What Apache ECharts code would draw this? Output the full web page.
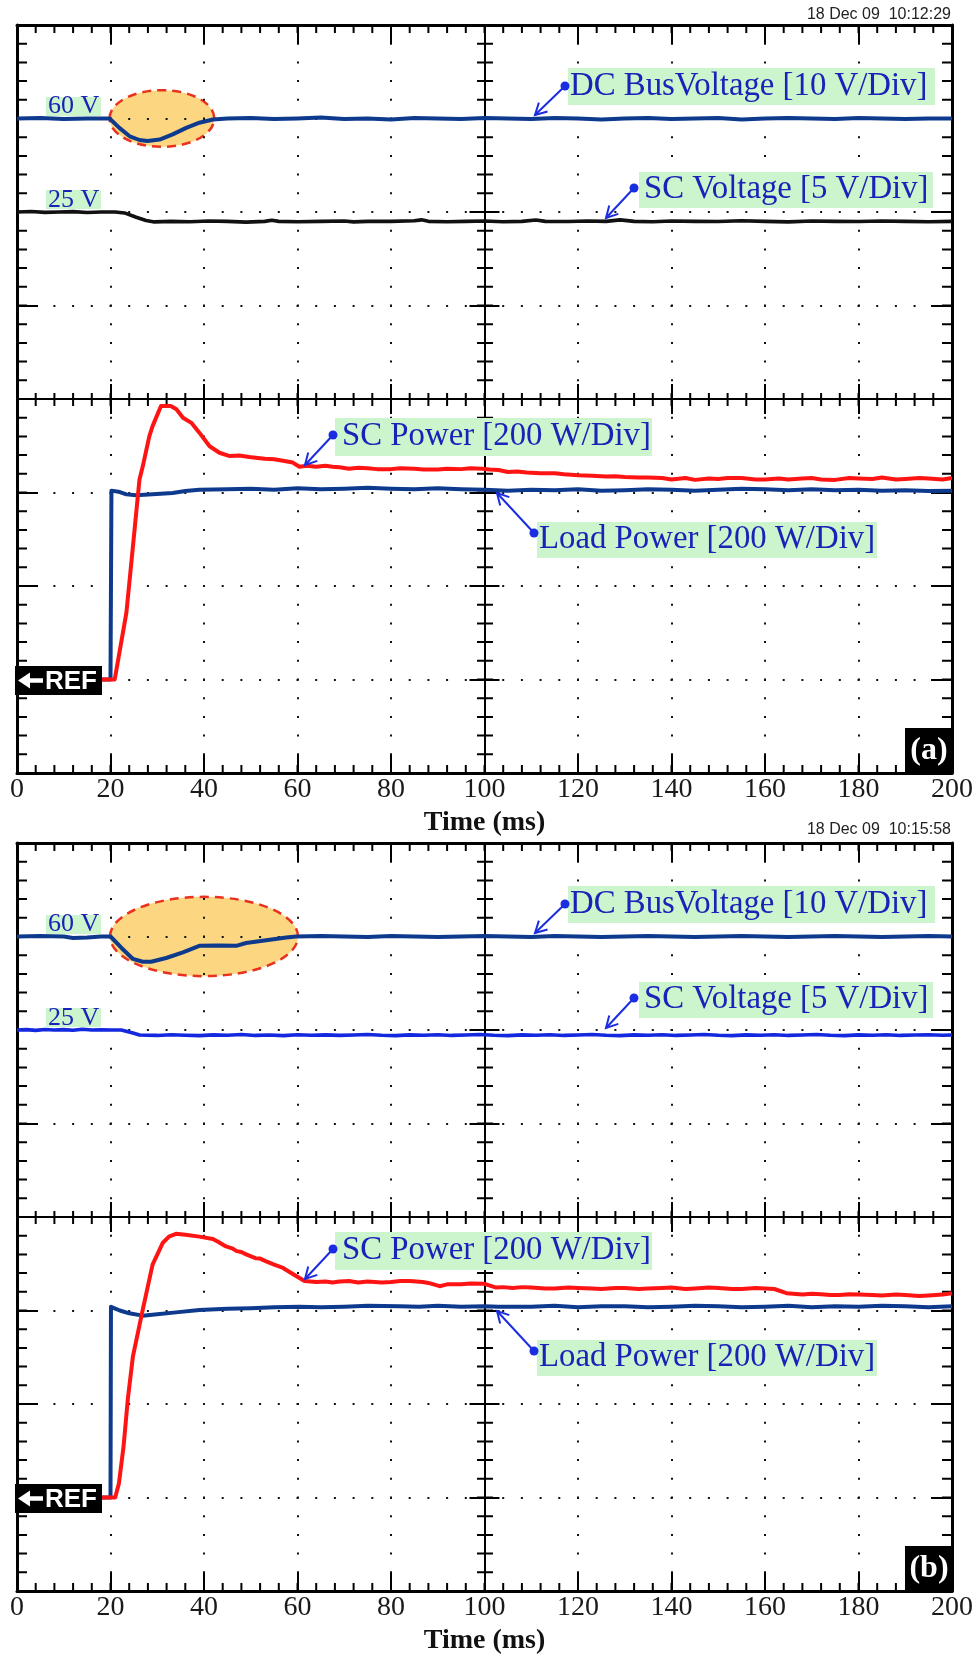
<!DOCTYPE html>
<html>
<head>
<meta charset="utf-8">
<script src="https://cdn.jsdelivr.net/npm/echarts@6/dist/echarts.min.js"></script>
<style>
  html, body { margin: 0; padding: 0; background: #ffffff; }
  #chart { width: 976px; height: 1657px; }
</style>
</head>
<body>
<div id="chart"></div>
<script>
// ---------- Measured traces: [time (ms), value] ----------

// Test (a)
const dcBusA = [[0,60],[5,60.05],[10,59.95],[15,60],[19.8,60],[21.9,59.0],[24.1,58.1],[26.2,57.7],[27.9,57.6],[30.5,57.75],
  [33.3,58.3],[36.2,59.0],[39,59.55],[41.9,59.9],[45,60],[50,60.05],[55,59.95],[60,60],[65,60.1],[70,59.95],[75,60],
  [80,59.9],[85,60.05],[90,60],[95,59.95],[100,60.05],[105,60],[110,59.95],[115,60.05],[120,60],[125,59.9],[130,60],
  [135,60.05],[140,59.95],[145,60],[150,60.05],[155,59.9],[160,60],[165,60.05],[170,60],[175,59.95],[180,60.05],
  [185,60],[190,59.95],[195,60],[200,60]];

const scVoltA = [[0,25.0],[3,25.03],[6,24.98],[9,25.0],[12,25.02],[15,24.97],[18,25.0],[21,25.0],[23,24.95],[25.5,24.72],
  [27.6,24.55],[29.4,24.47],[33,24.5],[37,24.48],[41,24.52],[45,24.5],[49,24.46],[53,24.5],[54.5,24.56],[56,24.5],
  [60,24.48],[65,24.5],[70,24.52],[72,24.47],[75,24.5],[80,24.5],[85,24.53],[86.5,24.58],[88,24.5],[92,24.48],
  [96,24.5],[100,24.52],[104,24.48],[108,24.5],[111,24.57],[113,24.5],[118,24.49],[122,24.52],[126,24.5],[129,24.58],
  [132,24.5],[136,24.48],[140,24.52],[145,24.5],[150,24.49],[155,24.53],[160,24.5],[165,24.47],[170,24.52],[175,24.5],
  [180,24.49],[185,24.52],[190,24.5],[195,24.48],[200,24.5]];

const loadPowA = [[0,0],[20,0],[20.2,404],[22,401],[23.4,396],[25.5,394],[29,396],[33.3,399],[36,403],[39,406],[45,407],
  [50,408],[55,406],[60,409],[65,407],[70,408],[75,410],[80,408],[85,407],[90,409],[95,407],[100,406],[105,404],[110,406],
  [115,405],[120,407],[125,404],[130,405],[135,407],[140,406],[145,404],[150,406],[155,408],[160,407],[165,405],[170,407],
  [175,405],[180,406],[185,404],[190,405],[195,403],[200,404]];

const scPowA = [[0,0],[20,0],[20.9,0],[21.9,57],[23.4,143],[24.8,285],[26.2,428],[26.9,456],[28.3,520],[29,542],[30.8,585],
  [32.9,585],[34.1,578],[35.5,560],[37.3,549],[39,528],[41.2,499],[43.3,485],[45.5,478],[47.5,479],[49.7,476],[51.5,474],
  [53,472],[55,471],[56.9,468],[59,464],[60.4,455],[62,457],[64,455],[66,457],[67.5,455],[69,454],[71,451],[73,453],
  [75,452],[77,450],[80,450],[82,452],[85,451],[87,449],[90,449],[92,451],[95,450],[97,452],[99.6,451],[101,449],[103,448],
  [105,444],[107,445],[109,443],[112,441],[115,441],[117,439],[120,437],[123,436],[126,434],[128,435],[130,433],
  [133,432],[135,432],[138,431],[140,428],[143,431],[145,427],[148,430],[150,429],[152,431],[155,431],[158,428],
  [160,428],[163,430],[165,428],[168,430],[170,431],[172,428],[175,427],[178,431],[180,430],[183,429],[185,432],
  [188,428],[190,429],[193,431],[195,430],[198,428],[200,431]];

// Test (b)
const dcBusB = [[0,60],[5,60.05],[10,60],[12,59.85],[15,59.9],[18,60],[20,60],[22.3,58.8],[24.8,57.6],[26.9,57.3],[28.7,57.3],
  [31.9,57.7],[35.5,58.3],[39,59.0],[43,59.05],[46.9,59.0],[49,59.3],[53.3,59.6],[57.6,59.9],[59.7,60],[65,60.05],[70,60],
  [75,59.95],[80,60.05],[85,60],[90,59.95],[95,60],[100,60.05],[105,60],[110,59.95],[115,60.05],[120,60],[125,59.95],
  [130,60],[135,60.05],[140,60],[145,59.95],[150,60],[155,60.05],[160,60],[165,59.95],[170,60],[175,60.05],[180,60],
  [185,59.95],[190,60],[195,60.05],[200,60]];

const scVoltB = [[0,25.0],[2,25.02],[4,24.98],[6,25.03],[8,25.0],[10,25.02],[12,24.99],[14,25.04],[16,25.0],[18,25.01],
  [20,25.0],[22.3,25.0],[24.8,24.84],[26.2,24.73],[30,24.71],[33,24.75],[36,24.72],[39,24.7],[42,24.74],[45,24.72],
  [48,24.76],[51,24.71],[54,24.73],[57,24.7],[60,24.75],[63,24.72],[66,24.74],[69,24.71],[72,24.73],[75,24.76],
  [78,24.72],[81,24.7],[84,24.74],[87,24.72],[90,24.75],[93,24.71],[96,24.73],[99,24.76],[102,24.72],[105,24.7],
  [108,24.74],[111,24.72],[114,24.75],[117,24.71],[120,24.73],[123,24.76],[126,24.72],[129,24.7],[132,24.74],[135,24.72],
  [138,24.75],[141,24.71],[144,24.73],[147,24.76],[150,24.72],[153,24.7],[156,24.74],[159,24.72],[162,24.75],[165,24.71],
  [168,24.73],[171,24.76],[174,24.72],[177,24.7],[180,24.74],[183,24.72],[186,24.75],[189,24.71],[192,24.73],[195,24.75],
  [198,24.72],[200,24.73]];

const loadPowB = [[0,0],[20,0],[20.1,408],[21,404],[22,400],[24,394],[26.9,389],[30,392],[34,396],[39,401],[45,404],[50,405],
  [55,407],[60.4,408],[65,407],[70,408],[75,410],[81.8,409],[86,408],[90,410],[95,408],[100,409],[103,408],[110,408],
  [115,410],[120,407],[125,409],[130,409],[135,407],[140,408],[145,410],[150,409],[155,407],[160,408],[165,410],[170,407],
  [175,409],[180,408],[185,410],[190,409],[195,407],[200,409]];

const scPowB = [[0,0],[20,0],[21,0],[21.8,30],[22.8,110],[23.7,210],[24.8,302],[26.9,402],[29,498],[31.2,545],[32.5,558],
  [34,564],[36,562],[39,558],[41.9,553],[43,547],[44.7,537],[46,533],[47,527],[48,525],[49,520],[51,512],[52,511],
  [53.3,505],[55,498],[56.9,491],[59,478],[61.5,463],[64,461],[66,462],[67.5,460],[69,462],[71,463],[73,460],[75,462],
  [78,460],[80,461],[82,463],[84,463],[86.8,461],[88,459],[90.4,452],[92,456],[95,456],[97,458],[100,457],[102.5,449],
  [104,450],[106,448],[108,450],[110,449],[113,447],[115,447],[118,449],[120,448],[123,447],[125,446],[128,448],
  [130,448],[133,446],[135,447],[138,448],[140,449],[143,446],[145,447],[148,449],[150,448],[153,446],[155,446],
  [158,448],[160,447],[162,446],[164.6,437],[166,436],[168,434],[170,436],[172,435],[174,433],[176,433],[178,435],
  [180,434],[183,433],[185,432],[188,434],[190,433],[193,431],[195,432],[198,434],[200,437]];

// ---------- Styling ----------
const SERIF = '"Liberation Serif", "Times New Roman", serif';
const SANS = '"Liberation Sans", Arial, sans-serif';
const NAVY = '#0e3a8e';
const RED = '#ff1414';
const LABEL_TEXT = '#1a22b8';
const LABEL_BG = '#cdf5cd';
const POINTER = '#1b2de0';

const GRID_LEFT = 17, GRID_W = 935, GRID_H = 748;
const MINOR_STEP = 18.7; // one fifth of a division, in pixels

const PANELS = [
  { top: 25, tag: '(a)', stamp: '18 Dec 09  10:12:29', stampDy: -10,
    dc: dcBusA, scv: scVoltA, scvColor: '#111111', load: loadPowA, scp: scPowA,
    ellipse: { t: 31, v: 60, dt: 11.2, dv: 3.03 }, scvShift: 0, scpShift: 0 },
  { top: 843, tag: '(b)', stamp: '18 Dec 09  10:15:58', stampDy: -13,
    dc: dcBusB, scv: scVoltB, scvColor: '#1428e0', load: loadPowB, scp: scPowB,
    ellipse: { t: 40, v: 60, dt: 20.1, dv: 4.24 }, scvShift: -8, scpShift: -4 }
];

const X_PER_PANEL = 8, Y_PER_PANEL = 10;
const tickLine = () => ({ color: '#000', width: 2 });
const dotted = () => ({ color: '#111', width: 2, type: [2, MINOR_STEP - 2], dashOffset: 1 });

// A comb of minor ticks: a wide axis line broken into short dashes, one per fifth of a division.
function combAxis(base, extra, len) {
  return Object.assign({}, base, {
    axisTick: { show: false }, splitLine: { show: false }, axisLabel: { show: false },
    axisLine: { show: true, onZero: false,
                lineStyle: { color: '#000', width: len, type: [2, MINOR_STEP - 2], dashOffset: 1, cap: 'butt' } }
  }, extra);
}

const grids = [], xAxes = [], yAxes = [], series = [];

PANELS.forEach((P, p) => {
  const bx = p * X_PER_PANEL, by = p * Y_PER_PANEL;
  grids.push({ left: GRID_LEFT, top: P.top, width: GRID_W, height: GRID_H, show: false });

  const tMajor = { gridIndex: p, type: 'value', min: 0, max: 200, interval: 20 };
  xAxes.push(
    // 0: bottom frame, time labels and dotted verticals
    Object.assign({}, tMajor, {
      position: 'bottom',
      axisLine: { onZero: false, lineStyle: { color: '#000', width: 3 } },
      axisTick: { inside: true, length: 18, lineStyle: tickLine() },
      splitLine: { show: true, lineStyle: dotted() },
      axisLabel: { margin: 3, color: '#1a1a1a', fontFamily: SERIF, fontSize: 28, showMinLabel: true, showMaxLabel: true },
      name: 'Time (ms)', nameLocation: 'middle', nameGap: 36,
      nameTextStyle: { fontFamily: SERIF, fontSize: 28, fontWeight: 'bold', color: '#111' }
    }),
    // 1: top frame
    Object.assign({}, tMajor, {
      position: 'top',
      axisLine: { onZero: false, lineStyle: { color: '#000', width: 3 } },
      axisTick: { inside: true, length: 19, lineStyle: tickLine() },
      splitLine: { show: false }, axisLabel: { show: false }
    }),
    // 2: horizontal centre line, ticks upward
    Object.assign({}, tMajor, {
      position: 'bottom',
      axisLine: { onZero: true, onZeroAxisIndex: by, lineStyle: { color: '#000', width: 2 } },
      axisTick: { inside: true, length: 15, lineStyle: tickLine() },
      splitLine: { show: false }, axisLabel: { show: false }
    }),
    // 3: horizontal centre line, ticks downward
    Object.assign({}, tMajor, {
      position: 'bottom',
      axisLine: { show: false, onZero: true, onZeroAxisIndex: by },
      axisTick: { inside: false, length: 15, lineStyle: tickLine() },
      splitLine: { show: false }, axisLabel: { show: false }
    }),
    // 4: symmetric helper scale locating the vertical centre line
    { gridIndex: p, type: 'value', min: -100, max: 100, show: false },
    // 5-7: minor-tick combs: bottom frame, top frame, horizontal centre line
    combAxis(tMajor, { position: 'bottom', offset: -4 }, 8),
    combAxis(tMajor, { position: 'top', offset: -4 }, 8),
    (function () {
      const a = combAxis(tMajor, { position: 'bottom' }, 13);
      a.axisLine.onZero = true; a.axisLine.onZeroAxisIndex = by;
      return a;
    })()
  );

  const dMajor = { gridIndex: p, type: 'value', min: -4, max: 4, interval: 1 };
  yAxes.push(
    // 0: left frame, dotted horizontals
    Object.assign({}, dMajor, {
      position: 'left',
      axisLine: { onZero: false, lineStyle: { color: '#000', width: 3 } },
      axisTick: { inside: true, length: 21, lineStyle: tickLine() },
      splitLine: { show: true, lineStyle: dotted() }, axisLabel: { show: false }
    }),
    // 1: right frame
    Object.assign({}, dMajor, {
      position: 'right',
      axisLine: { onZero: false, lineStyle: { color: '#000', width: 3 } },
      axisTick: { inside: true, length: 21, lineStyle: tickLine() },
      splitLine: { show: false }, axisLabel: { show: false }
    }),
    // 2: vertical centre line, ticks to the right
    Object.assign({}, dMajor, {
      position: 'left',
      axisLine: { onZero: true, onZeroAxisIndex: bx + 4, lineStyle: { color: '#000', width: 2 } },
      axisTick: { inside: true, length: 15, lineStyle: tickLine() },
      splitLine: { show: false }, axisLabel: { show: false }
    }),
    // 3: vertical centre line, ticks to the left
    Object.assign({}, dMajor, {
      position: 'left',
      axisLine: { show: false, onZero: true, onZeroAxisIndex: bx + 4 },
      axisTick: { inside: false, length: 15, lineStyle: tickLine() },
      splitLine: { show: false }, axisLabel: { show: false }
    }),
    // 4-6: channel scales: 10 V/div, 5 V/div, 200 W/div
    { gridIndex: p, type: 'value', min: -10, max: 70, show: false },
    { gridIndex: p, type: 'value', min: -5, max: 35, show: false },
    { gridIndex: p, type: 'value', min: -200, max: 1400, show: false },
    // 7-9: minor-tick combs: left frame, right frame, vertical centre line
    combAxis(dMajor, { position: 'left', offset: -5 }, 10),
    combAxis(dMajor, { position: 'right', offset: -5 }, 10),
    (function () {
      const a = combAxis(dMajor, { position: 'left' }, 16);
      a.axisLine.onZero = true; a.axisLine.onZeroAxisIndex = bx + 4;
      return a;
    })()
  );

  const trace = (data, yIdx, color, width) => ({
    type: 'line', xAxisIndex: bx, yAxisIndex: yIdx, data: data,
    showSymbol: false, symbol: 'none', silent: true, animation: false,
    lineStyle: { color: color, width: width, join: 'round' }, z: 3
  });
  series.push(
    trace(P.dc, by + 4, NAVY, 4),
    trace(P.scv, by + 5, P.scvColor, 3.6),
    trace(P.load, by + 6, NAVY, 4),
    trace(P.scp, by + 6, RED, 4)
  );
});

const chart = echarts.init(document.getElementById('chart'), null, { renderer: 'canvas', width: 976, height: 1657 });
chart.setOption({
  animation: false,
  backgroundColor: '#ffffff',
  grid: grids, xAxis: xAxes, yAxis: yAxes, series: series
});

// ---------- Annotations ----------
function labelBox(x, y, w, h, text, textX, textY, size) {
  return [
    { type: 'rect', z: 10, shape: { x: x, y: y, width: w, height: h }, style: { fill: LABEL_BG } },
    { type: 'text', z: 11, x: textX, y: textY,
      style: { text: text, font: size + 'px ' + SERIF, fill: LABEL_TEXT,
               align: 'left', verticalAlign: 'middle', textAlign: 'left', textVerticalAlign: 'middle' } }
  ];
}

function pointer(x1, y1, x2, y2) {
  const ang = Math.atan2(y1 - y2, x1 - x2);
  const len = 13, spread = 0.5;
  const a = [x2 + len * Math.cos(ang + spread), y2 + len * Math.sin(ang + spread)];
  const b = [x2 + len * Math.cos(ang - spread), y2 + len * Math.sin(ang - spread)];
  return [
    { type: 'line', z: 11, shape: { x1: x1, y1: y1, x2: x2, y2: y2 }, style: { stroke: POINTER, lineWidth: 2 } },
    { type: 'polyline', z: 11, shape: { points: [a, [x2, y2], b] }, style: { stroke: POINTER, lineWidth: 2, fill: null } },
    { type: 'circle', z: 11, shape: { cx: x1, cy: y1, r: 4.5 }, style: { fill: POINTER } }
  ];
}

const graphics = [];
PANELS.forEach((P, p) => {
  const T = P.top, bx = p * X_PER_PANEL, by = p * Y_PER_PANEL;

  // highlighted region around the bus voltage transient
  const E = P.ellipse;
  const c = chart.convertToPixel({ xAxisIndex: bx, yAxisIndex: by + 4 }, [E.t, E.v]);
  const e = chart.convertToPixel({ xAxisIndex: bx, yAxisIndex: by + 4 }, [E.t + E.dt, E.v - E.dv]);
  graphics.push({ type: 'ellipse', z: -1,
    shape: { cx: c[0], cy: c[1], rx: Math.abs(e[0] - c[0]), ry: Math.abs(e[1] - c[1]) },
    style: { fill: '#fcd680', stroke: '#e8321e', lineWidth: 2.5, lineDash: [9, 6] } });

  graphics.push(...labelBox(46, T + 72, 55, 19, '60 V', 48, T + 81, 26));
  graphics.push(...labelBox(46, T + 165, 55, 19, '25 V', 48, T + 175, 26));

  graphics.push(...labelBox(568, T + 43, 367, 37, 'DC BusVoltage [10 V/Div]', 570, T + 61, 32.8));
  graphics.push(...pointer(565, T + 61, 535, T + 90));

  const s1 = P.scvShift;
  graphics.push(...labelBox(639, T + 147 + s1, 294, 36, 'SC Voltage [5 V/Div]', 644, T + 164 + s1, 32.8));
  graphics.push(...pointer(634, T + 163 + s1, 606, T + 193 + s1));

  const s2 = P.scpShift;
  graphics.push(...labelBox(335, T + 393 + s2, 317, 38, 'SC Power [200 W/Div]', 342, T + 411 + s2, 32.8));
  graphics.push(...pointer(333, T + 410 + s2, 305, T + 440 + s2));

  graphics.push(...labelBox(537, T + 497, 340, 36, 'Load Power [200 W/Div]', 539, T + 514, 32.8));
  graphics.push(...pointer(534, T + 508, 497, T + 468));

  // ground reference marker
  const ry = T + 655.5;
  graphics.push({ type: 'rect', z: 12, shape: { x: 15, y: T + 641, width: 87, height: 29 }, style: { fill: '#000' } });
  graphics.push({ type: 'polygon', z: 13,
    shape: { points: [[18, ry], [30, ry - 8], [30, ry - 2.2], [43, ry - 2.2], [43, ry + 2.2], [30, ry + 2.2], [30, ry + 8]] },
    style: { fill: '#fff' } });
  graphics.push({ type: 'text', z: 13, x: 45, y: ry + 1,
    style: { text: 'REF', font: 'bold 26px ' + SANS, fill: '#fff',
             align: 'left', verticalAlign: 'middle', textAlign: 'left', textVerticalAlign: 'middle' } });

  // panel tag
  graphics.push({ type: 'rect', z: 12, shape: { x: 905, y: T + 703, width: 48, height: 45 }, style: { fill: '#000' } });
  graphics.push({ type: 'text', z: 13, x: 929, y: T + 726,
    style: { text: P.tag, font: 'bold 32px ' + SERIF, fill: '#fff',
             align: 'center', verticalAlign: 'middle', textAlign: 'center', textVerticalAlign: 'middle' } });

  // acquisition timestamp
  graphics.push({ type: 'text', z: 13, x: 951, y: T + P.stampDy,
    style: { text: P.stamp, font: '16px ' + SANS, fill: '#222',
             align: 'right', verticalAlign: 'middle', textAlign: 'right', textVerticalAlign: 'middle' } });
});

chart.setOption({ graphic: { elements: graphics } });
</script>
</body>
</html>
